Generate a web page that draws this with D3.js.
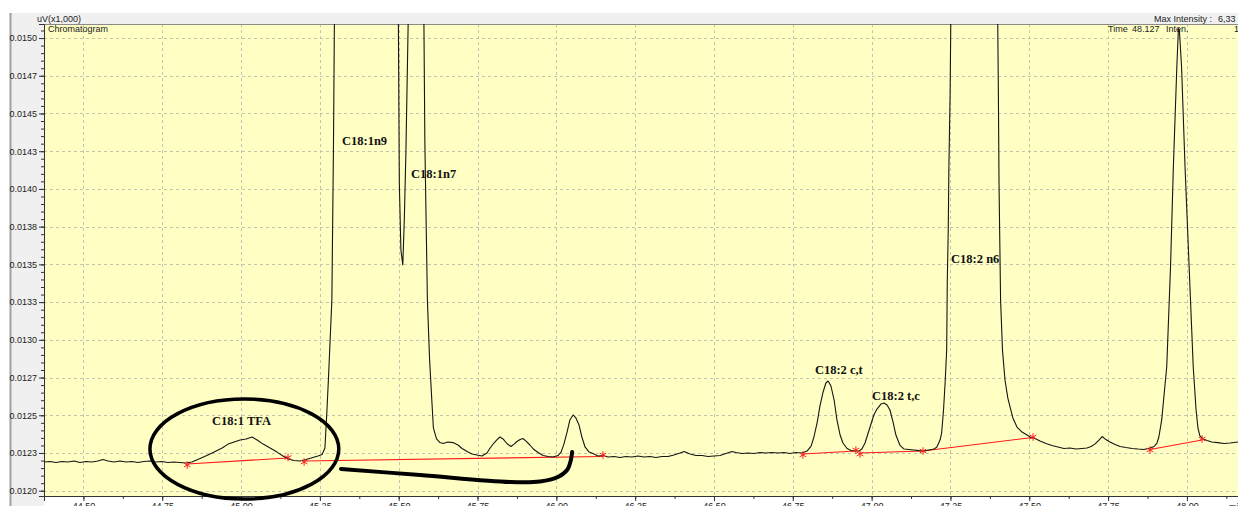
<!DOCTYPE html>
<html>
<head>
<meta charset="utf-8">
<script src="https://cdnjs.cloudflare.com/ajax/libs/d3/7.8.5/d3.min.js"></script>
<style>
  html, body { margin: 0; padding: 0; background: #fff; overflow: hidden; }
  svg { display: block; }
  text { font-family: "Liberation Sans", Arial, sans-serif; fill: #222; }
  .peak-label { font-family: "Liberation Serif", "Times New Roman", serif; font-weight: bold; font-size: 12.5px; fill: #111; }
</style>
</head>
<body>
<div id="chart"></div>
<script>
// chromatogram trace: [time (min), intensity (uV x1,000)]
const trace = [
  [44.375,0.012190],[44.394,0.012194],[44.413,0.012187],[44.432,0.012194],[44.451,0.012190],[44.470,0.012197],
  [44.489,0.012187],[44.508,0.012194],[44.527,0.012190],[44.546,0.012197],[44.562,0.012207],[44.578,0.012197],
  [44.597,0.012190],[44.616,0.012197],[44.635,0.012190],[44.654,0.012194],[44.673,0.012187],[44.692,0.012194],
  [44.711,0.012197],[44.730,0.012190],[44.749,0.012194],[44.768,0.012187],[44.787,0.012190],[44.806,0.012187],
  [44.825,0.012184],[44.844,0.012190],[44.870,0.012213],[44.895,0.012237],[44.921,0.012263],[44.940,0.012283],
  [44.959,0.012309],[44.978,0.012323],[44.997,0.012336],[45.016,0.012343],[45.035,0.012356],[45.051,0.012336],
  [45.070,0.012309],[45.092,0.012283],[45.114,0.012256],[45.133,0.012230],[45.149,0.012210],[45.168,0.012200],
  [45.187,0.012197],[45.206,0.012207],[45.228,0.012220],[45.244,0.012230],[45.257,0.012240],[45.266,0.012283],
  [45.272,0.012515],[45.277,0.012734],[45.288,0.013264],[45.293,0.014258],[45.296,0.015093],[45.396,0.018500],
  [45.499,0.015093],[45.502,0.014039],[45.507,0.013595],[45.513,0.013496],[45.518,0.013814],[45.523,0.014258],
  [45.530,0.015093],[45.555,0.018500],[45.580,0.015093],[45.583,0.014304],[45.591,0.013264],[45.598,0.012866],
  [45.605,0.012601],[45.610,0.012416],[45.620,0.012343],[45.631,0.012319],[45.641,0.012313],[45.656,0.012323],
  [45.672,0.012319],[45.688,0.012303],[45.701,0.012280],[45.717,0.012260],[45.732,0.012243],[45.748,0.012237],
  [45.764,0.012230],[45.780,0.012250],[45.790,0.012283],[45.802,0.012316],[45.812,0.012339],[45.821,0.012356],
  [45.831,0.012343],[45.843,0.012313],[45.856,0.012293],[45.866,0.012309],[45.875,0.012326],[45.885,0.012339],
  [45.894,0.012346],[45.904,0.012329],[45.916,0.012303],[45.929,0.012273],[45.942,0.012253],[45.958,0.012233],
  [45.974,0.012227],[45.989,0.012223],[46.005,0.012233],[46.015,0.012256],[46.024,0.012309],[46.034,0.012389],
  [46.043,0.012469],[46.053,0.012502],[46.062,0.012482],[46.072,0.012435],[46.081,0.012356],[46.091,0.012290],
  [46.104,0.012256],[46.116,0.012247],[46.132,0.012230],[46.148,0.012233],[46.164,0.012223],[46.183,0.012227],
  [46.202,0.012220],[46.221,0.012227],[46.240,0.012223],[46.259,0.012230],[46.278,0.012223],[46.297,0.012227],
  [46.316,0.012220],[46.335,0.012227],[46.354,0.012227],[46.373,0.012237],[46.392,0.012250],[46.405,0.012260],
  [46.424,0.012243],[46.443,0.012233],[46.462,0.012233],[46.481,0.012227],[46.500,0.012230],[46.519,0.012233],
  [46.538,0.012247],[46.557,0.012260],[46.570,0.012253],[46.589,0.012247],[46.608,0.012250],[46.627,0.012247],
  [46.646,0.012253],[46.665,0.012250],[46.684,0.012253],[46.703,0.012250],[46.722,0.012253],[46.741,0.012247],
  [46.760,0.012253],[46.779,0.012250],[46.795,0.012263],[46.808,0.012296],[46.817,0.012356],[46.827,0.012449],
  [46.836,0.012561],[46.846,0.012654],[46.855,0.012714],[46.862,0.012727],[46.871,0.012694],[46.881,0.012601],
  [46.890,0.012469],[46.900,0.012369],[46.909,0.012316],[46.922,0.012280],[46.935,0.012266],[46.947,0.012263],
  [46.960,0.012263],[46.969,0.012276],[46.979,0.012316],[46.988,0.012376],[46.998,0.012442],[47.007,0.012502],
  [47.017,0.012541],[47.030,0.012575],[47.039,0.012581],[47.049,0.012568],[47.058,0.012535],[47.068,0.012455],
  [47.077,0.012369],[47.090,0.012300],[47.103,0.012276],[47.118,0.012273],[47.134,0.012270],[47.150,0.012266],
  [47.166,0.012263],[47.182,0.012270],[47.198,0.012276],[47.207,0.012290],[47.217,0.012336],[47.222,0.012382],
  [47.228,0.012535],[47.233,0.012714],[47.238,0.012932],[47.240,0.013396],[47.243,0.013728],[47.245,0.014139],
  [47.249,0.014642],[47.251,0.015093],[47.325,0.018500],[47.400,0.015093],[47.402,0.014636],[47.404,0.014039],
  [47.409,0.013264],[47.415,0.012932],[47.423,0.012734],[47.432,0.012614],[47.439,0.012555],[47.448,0.012482],
  [47.461,0.012422],[47.477,0.012389],[47.493,0.012369],[47.505,0.012353],[47.518,0.012346],[47.534,0.012329],
  [47.553,0.012313],[47.572,0.012300],[47.591,0.012290],[47.610,0.012280],[47.629,0.012283],[47.648,0.012276],
  [47.667,0.012280],[47.683,0.012283],[47.696,0.012293],[47.708,0.012309],[47.721,0.012336],[47.731,0.012359],
  [47.743,0.012339],[47.756,0.012323],[47.772,0.012306],[47.788,0.012293],[47.807,0.012286],[47.826,0.012280],
  [47.845,0.012276],[47.864,0.012273],[47.883,0.012283],[47.896,0.012293],[47.905,0.012316],[47.911,0.012356],
  [47.920,0.012469],[47.926,0.012601],[47.936,0.012822],[47.948,0.013484],[47.957,0.014147],[47.968,0.014810],
  [47.973,0.015063],[47.976,0.015053],[47.983,0.014810],[47.994,0.014147],[48.007,0.013484],[48.020,0.012822],
  [48.029,0.012535],[48.035,0.012416],[48.041,0.012363],[48.051,0.012343],[48.064,0.012333],[48.079,0.012323],
  [48.098,0.012319],[48.118,0.012313],[48.137,0.012316],[48.162,0.012323]
];

// integration baselines [t0, v0, t1, v1]
const baselines = [
  [44.829,0.012177,45.149,0.012217],
  [45.200,0.012197,46.148,0.012227],
  [46.782,0.012243,46.950,0.012263],
  [46.963,0.012250,47.163,0.012263],
  [47.163,0.012263,47.512,0.012353],
  [47.883,0.012273,48.048,0.012336]
];

// peak start/end markers [t, v]
const peakMarks = [
  [44.829,0.012170],[45.149,0.012220],[45.200,0.012190],[46.148,0.012237],
  [46.782,0.012237],[46.950,0.012270],[46.963,0.012243],[47.163,0.012263],
  [47.512,0.012356],[47.883,0.012270],[48.048,0.012343]
];

const peakNames  = ["C18:1 TFA", "C18:1n9", "C18:1n7", "C18:2 c,t", "C18:2 t,c", "C18:2 n6"];
const nameTimes  = [44.908, 45.320, 45.539, 46.820, 47.001, 47.252];
const nameValues = [0.012435, 0.014291, 0.014072, 0.012773, 0.012601, 0.013509];

const yTickValues = [0.0120,0.01225,0.0125,0.01275,0.0130,0.01325,0.0135,0.01375,0.0140,0.01425,0.0145,0.01475,0.0150];
const yTickLabels = ["0.0120","0.0123","0.0125","0.0127","0.0130","0.0133","0.0135","0.0138","0.0140","0.0143","0.0145","0.0147","0.0150"];
const xTickValues = [44.50,44.75,45.00,45.25,45.50,45.75,46.00,46.25,46.50,46.75,47.00,47.25,47.50,47.75,48.00];

// hand drawn marks (circle round the TFA bump, stroke under the n9/n7 peaks)
const circleBox = [44.711, 45.310, 0.011945, 0.012608];
const strokePts = [[45.317,0.012144],[45.568,0.012104],[45.853,0.012058],[45.948,0.012061],[46.005,0.012091],[46.034,0.012137],[46.046,0.012203],[46.050,0.012256]];

const width = 1238, height = 506;
const plotLeft = 44, plotRight = 1238, plotTop = 24, plotBottom = 496;

const svg = d3.select("#chart").append("svg")
  .attr("width", width)
  .attr("height", height);

const x = d3.scaleLinear().domain([44.375, 48.162]).range([plotLeft, plotRight]);
const y = d3.scaleLinear().domain([0.011965, 0.015093]).range([plotBottom, plotTop]);

// window chrome
svg.append("rect").attr("x", 10).attr("y", 13).attr("width", width - 10).attr("height", plotTop - 13).attr("fill", "#f0f0f0");
svg.append("rect").attr("x", 10).attr("y", 13).attr("width", plotLeft - 10).attr("height", height - 13).attr("fill", "#f0f0f0");
svg.append("line").attr("x1", 10.5).attr("x2", 10.5).attr("y1", 13).attr("y2", height)
  .attr("stroke", "#a0a0a0").attr("stroke-width", 2);

// plot area
svg.append("rect").attr("x", plotLeft).attr("y", plotTop).attr("width", plotRight - plotLeft).attr("height", plotBottom - plotTop)
  .attr("fill", "#ffffc4");

svg.append("defs").append("clipPath").attr("id", "plotClip")
  .append("rect").attr("x", plotLeft).attr("y", plotTop).attr("width", plotRight - plotLeft).attr("height", plotBottom - plotTop);

// grid
const grid = svg.append("g").attr("stroke", "#c4c4b0").attr("stroke-dasharray", "3,3").attr("stroke-width", 1);
grid.selectAll(".gy").data(yTickValues).enter().append("line")
  .attr("x1", plotLeft).attr("x2", plotRight)
  .attr("y1", d => Math.round(y(d)) + 0.5).attr("y2", d => Math.round(y(d)) + 0.5);
grid.selectAll(".gx").data(xTickValues).enter().append("line")
  .attr("y1", plotTop).attr("y2", plotBottom)
  .attr("x1", d => Math.round(x(d)) + 0.5).attr("x2", d => Math.round(x(d)) + 0.5);

// top border
svg.append("line").attr("x1", plotLeft).attr("x2", plotRight).attr("y1", plotTop + 0.5).attr("y2", plotTop + 0.5)
  .attr("stroke", "#8a8a8a");

// y axis
const yMinor = d3.range(0.01200, 0.01510, 0.00005);
svg.append("g").attr("transform", `translate(${plotLeft},0)`)
  .call(d3.axisLeft(y).tickValues(yMinor).tickSize(3).tickFormat(""))
  .call(g => g.select(".domain").remove())
  .selectAll("line").attr("stroke", "#333");
const yAxis = svg.append("g").attr("transform", `translate(${plotLeft},0)`)
  .call(d3.axisLeft(y).tickValues(yTickValues).tickSize(5).tickPadding(2)
    .tickFormat((d, i) => yTickLabels[i]));
yAxis.select(".domain").attr("stroke", "#333");
yAxis.selectAll("line").attr("stroke", "#333");
yAxis.selectAll("text").attr("font-size", 9).attr("font-family", "Liberation Sans, Arial, sans-serif").attr("fill", "#222");

// x axis (labels sit partly below the window edge, as in the screenshot)
const xMinor = d3.range(44.375, 48.2, 0.125);
svg.append("g").attr("transform", `translate(0,${plotBottom})`)
  .call(d3.axisBottom(x).tickValues(xMinor).tickSize(3).tickFormat(""))
  .call(g => g.select(".domain").remove())
  .selectAll("line").attr("stroke", "#333");
const xAxis = svg.append("g").attr("transform", `translate(0,${plotBottom})`)
  .call(d3.axisBottom(x).tickValues(xTickValues).tickSize(5).tickPadding(2).tickFormat(d3.format(".2f")));
xAxis.select(".domain").attr("stroke", "#333");
xAxis.selectAll("line").attr("stroke", "#333");
xAxis.selectAll("text").attr("font-size", 9).attr("font-family", "Liberation Sans, Arial, sans-serif").attr("fill", "#222");

svg.append("text").attr("x", 1229).attr("y", plotBottom + 14).attr("font-size", 9).text("min");

// header texts
svg.append("text").attr("x", 37).attr("y", 21.5).attr("font-size", 9).text("uV(x1,000)");
svg.append("text").attr("x", 48).attr("y", 32).attr("font-size", 9).text("Chromatogram");
svg.append("text").attr("x", 1212).attr("y", 21.5).attr("font-size", 9).attr("text-anchor", "end").text("Max Intensity :");
svg.append("text").attr("x", 1218).attr("y", 21.5).attr("font-size", 9).text("6,33");
svg.append("text").attr("x", 1108).attr("y", 32).attr("font-size", 9).text("Time");
svg.append("text").attr("x", 1132).attr("y", 32).attr("font-size", 9).text("48.127");
svg.append("text").attr("x", 1166).attr("y", 32).attr("font-size", 9).text("Inten.");
svg.append("text").attr("x", 1234).attr("y", 32).attr("font-size", 9).text("1");

const plot = svg.append("g").attr("clip-path", "url(#plotClip)");

// baselines
plot.selectAll(".base").data(baselines).enter().append("line")
  .attr("x1", d => x(d[0])).attr("y1", d => y(d[1]))
  .attr("x2", d => x(d[2])).attr("y2", d => y(d[3]))
  .attr("stroke", "#ff1a1a").attr("stroke-width", 1.1);

// signal
const line = d3.line().x(d => x(d[0])).y(d => y(d[1]));
plot.append("path").datum(trace)
  .attr("d", line)
  .attr("fill", "none")
  .attr("stroke", "#151515")
  .attr("stroke-width", 1.1)
  .attr("stroke-linejoin", "round");

// peak markers
plot.selectAll(".mark").data(peakMarks).enter().append("path")
  .attr("transform", d => `translate(${x(d[0])},${y(d[1])})`)
  .attr("d", d3.symbol(d3.symbolAsterisk, 40))
  .attr("fill", "none")
  .attr("stroke", "#ff2020")
  .attr("stroke-width", 1);

// peak names
svg.selectAll(".peak-label").data(peakNames).enter().append("text")
  .attr("class", "peak-label")
  .attr("x", (d, i) => x(nameTimes[i]))
  .attr("y", (d, i) => y(nameValues[i]))
  .text(d => d);

// hand drawn annotation
svg.append("ellipse")
  .attr("cx", (x(circleBox[0]) + x(circleBox[1])) / 2)
  .attr("cy", (y(circleBox[2]) + y(circleBox[3])) / 2)
  .attr("rx", (x(circleBox[1]) - x(circleBox[0])) / 2)
  .attr("ry", (y(circleBox[2]) - y(circleBox[3])) / 2)
  .attr("fill", "none")
  .attr("stroke", "#000")
  .attr("stroke-width", 3.5);

svg.append("path").datum(strokePts)
  .attr("d", d3.line().x(d => x(d[0])).y(d => y(d[1])).curve(d3.curveCatmullRom))
  .attr("fill", "none")
  .attr("stroke", "#000")
  .attr("stroke-width", 4)
  .attr("stroke-linecap", "round");
</script>
</body>
</html>
